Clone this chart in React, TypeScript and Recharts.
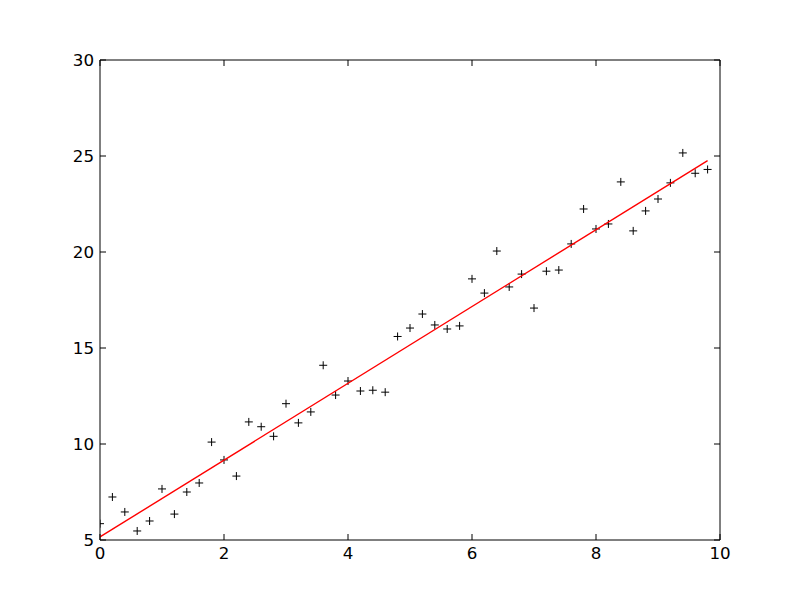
import { ScatterChart, Scatter, XAxis, YAxis } from 'recharts';

const xs = [0, 0.2, 0.4, 0.6, 0.8, 1, 1.2, 1.4, 1.6, 1.8, 2, 2.2, 2.4, 2.6, 2.8, 3, 3.2, 3.4, 3.6, 3.8,
  4, 4.2, 4.4, 4.6, 4.8, 5, 5.2, 5.4, 5.6, 5.8, 6, 6.2, 6.4, 6.6, 6.8, 7, 7.2, 7.4, 7.6, 7.8,
  8, 8.2, 8.4, 8.6, 8.8, 9, 9.2, 9.4, 9.6, 9.8];
const ys = [5.85, 7.24, 6.46, 5.47, 5.99, 7.66, 6.35, 7.5, 7.97, 10.1, 9.17, 8.33, 11.15, 10.9, 10.4,
  12.1, 11.1, 11.67, 14.1, 12.55, 13.28, 12.76, 12.8, 12.7, 15.6, 16.04, 16.77, 16.2, 15.99, 16.15,
  18.6, 17.86, 20.05, 18.18, 18.85, 17.08, 19.0, 19.06, 20.42, 22.24, 21.2, 21.46, 23.65, 21.1,
  22.14, 22.76, 23.6, 25.16, 24.1, 24.3];
const fitX = [0, 9.8];
const fitY = [5.16, 24.76];
const xTicks = [0, 2, 4, 6, 8, 10];
const yTicks = [5, 10, 15, 20, 25, 30];

const points = xs.map((x, i) => ({ x, y: ys[i] }));
const fitLine = fitX.map((x, i) => ({ x, y: fitY[i] }));
// outside the domain, only there so the top/right frame axes have a series
const frameDummy = [{ x: -100, y: -100 }];

const FONT = 16.7;
const TICK = 6;

const BottomTick = (props: any) => {
  const { x, y, payload } = props;
  return (
    <g>
      <line x1={x} y1={y} x2={x} y2={y - TICK} stroke="#000" />
      <text x={x} y={y + 19} textAnchor="middle" fontSize={FONT} fill="#000">{payload.value}</text>
    </g>
  );
};
const LeftTick = (props: any) => {
  const { x, y, payload } = props;
  return (
    <g>
      <line x1={x} y1={y} x2={x + TICK} y2={y} stroke="#000" />
      <text x={x - 6} y={y} dy="0.36em" textAnchor="end" fontSize={FONT} fill="#000">{payload.value}</text>
    </g>
  );
};
const TopTick = (props: any) => {
  const { x, y } = props;
  return <line x1={x} y1={y} x2={x} y2={y + TICK} stroke="#000" />;
};
const RightTick = (props: any) => {
  const { x, y } = props;
  return <line x1={x} y1={y} x2={x - TICK} y2={y} stroke="#000" />;
};

const Plus = (props: any) => {
  const { cx, cy } = props;
  if (cx == null || cy == null) return <g />;
  return (
    <g>
      <line x1={cx - 4} y1={cy} x2={cx + 4} y2={cy} stroke="#000" strokeWidth={1} />
      <line x1={cx} y1={cy - 4} x2={cx} y2={cy + 4} stroke="#000" strokeWidth={1} />
    </g>
  );
};
const NoDot = () => <g />;

export default function App() {
  return (
    <div style={{ position: 'absolute', left: 0, top: 0, width: 800, height: 600, background: '#fff', fontFamily: 'DejaVu Sans' }}>
      <ScatterChart width={800} height={600} margin={{ top: 59, right: 79, bottom: 0, left: 0 }}>
        <XAxis xAxisId="b" dataKey="x" type="number" domain={[0, 10]} ticks={xTicks} allowDataOverflow
          height={60} tickSize={0} tickMargin={0} tick={<BottomTick />} axisLine={{ stroke: '#000' }} />
        <XAxis xAxisId="t" orientation="top" dataKey="x" type="number" domain={[0, 10]} ticks={xTicks} allowDataOverflow
          height={1} tickSize={0} tickMargin={0} tick={<TopTick />} axisLine={{ stroke: '#000' }} />
        <YAxis yAxisId="l" dataKey="y" type="number" domain={[5, 30]} ticks={yTicks} allowDataOverflow
          width={100} tickSize={0} tickMargin={0} tick={<LeftTick />} axisLine={{ stroke: '#000' }} />
        <YAxis yAxisId="r" orientation="right" dataKey="y" type="number" domain={[5, 30]} ticks={yTicks} allowDataOverflow
          width={1} tickSize={0} tickMargin={0} tick={<RightTick />} axisLine={{ stroke: '#000' }} />
        <Scatter xAxisId="t" yAxisId="r" data={frameDummy} shape={<NoDot />} isAnimationActive={false} />
        <Scatter xAxisId="b" yAxisId="l" data={points} shape={<Plus />} isAnimationActive={false} />
        <Scatter xAxisId="b" yAxisId="l" data={fitLine} shape={<NoDot />}
          line={{ stroke: '#ff0000', strokeWidth: 1.4 }} isAnimationActive={false} />
      </ScatterChart>
    </div>
  );
}
